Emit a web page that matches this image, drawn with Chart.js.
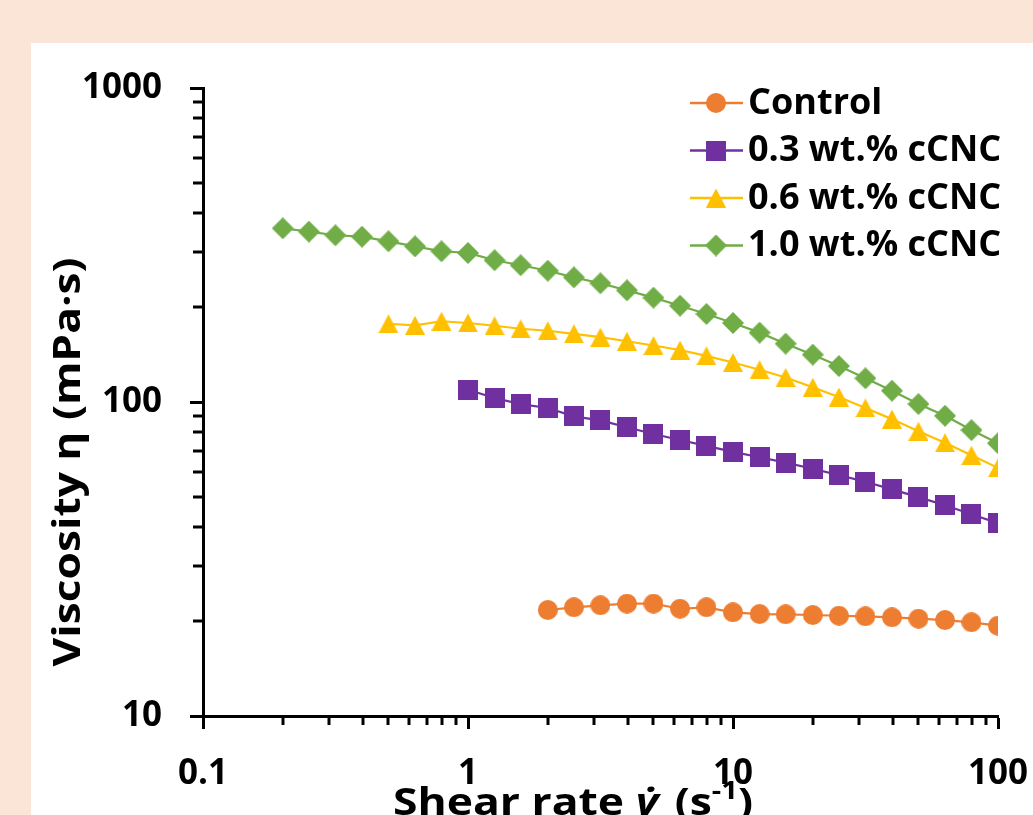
<!DOCTYPE html>
<html><head><meta charset="utf-8">
<script src="https://cdn.jsdelivr.net/npm/chart.js@4/dist/chart.umd.min.js"></script>
<style>
html,body{margin:0;padding:0;width:1033px;height:815px;overflow:hidden;background:#FBE5D6;}
#panel{position:absolute;left:31px;top:43px;width:1002px;height:772px;background:#ffffff;}
#c{position:absolute;left:0;top:0;}
</style></head><body>
<div id="panel"></div>
<canvas id="c" width="1033" height="815"></canvas>
<script>
// ---- data ----
const shearRate = [0.2, 0.251, 0.316, 0.398, 0.501, 0.631, 0.794, 1, 1.26, 1.58, 2, 2.51, 3.16, 3.98, 5.01, 6.31, 7.94, 10, 12.6, 15.8, 20, 25.1, 31.6, 39.8, 50.1, 63.1, 79.4, 100];
const seriesNames = ['Control', '0.3 wt.% cCNC', '0.6 wt.% cCNC', '1.0 wt.% cCNC'];
const controlVisc = [null, null, null, null, null, null, null, null, null, null,
  21.76, 22.19, 22.52, 22.79, 22.79, 21.96, 22.19, 21.39, 21.12, 21.07, 20.97, 20.86, 20.77, 20.62, 20.41, 20.21, 19.88, 19.39];
const cnc03Visc = [null, null, null, null, null, null, null,
  109.4, 103.0, 98.5, 95.7, 90.0, 87.4, 83.1, 79.1, 75.7, 72.5, 69.4, 66.7, 64.1, 61.3, 58.5, 55.7, 52.7, 49.8, 46.9, 43.9, 41.1];
const cnc06Visc = [null, null, null, null,
  177.5, 175.5, 180.8, 178.5, 174.9, 171.1, 168.6, 164.9, 160.9, 156.1, 151.3, 146.4, 140.3, 133.6, 126.7, 119.7, 111.4, 103.7, 95.7, 88.2, 80.7, 74.2, 67.7, 61.7];
const cnc10Visc = [357.5, 348.7, 339.6, 336.1, 324.9, 313.1, 302.0, 298.3, 282.8, 272.6, 261.9, 249.5, 238.8, 226.8, 214.9, 202.6, 190.7, 178.5, 166.3, 153.4, 141.5, 130.2, 119.0, 108.6, 98.5, 90.4, 81.4, 73.9];
const xTickValues = [0.1,0.2,0.3,0.4,0.5,0.6,0.7,0.8,0.9,1,2,3,4,5,6,7,8,9,10,20,30,40,50,60,70,80,90,100];
const yTickValues = [10,20,30,40,50,60,70,80,90,100,200,300,400,500,600,700,800,900,1000];
const xTickLabels = {0.1:'0.1', 1:'1', 10:'10', 100:'100'};
const yTickLabels = {10:'10', 100:'100', 1000:'1000'};

const colors = ['#ED7D31', '#7030A0', '#FFC000', '#70AD47'];
const FONT = "'Open Sans', 'DejaVu Sans', sans-serif";

function makeMarker(shape, color, w, h) {
  const c = document.createElement('canvas');
  c.width = w; c.height = h;
  const g = c.getContext('2d');
  g.fillStyle = color;
  g.beginPath();
  if (shape === 'circle') { g.arc(w/2, h/2, w/2, 0, Math.PI*2); }
  else if (shape === 'square') { g.rect(0, 0, w, h); }
  else if (shape === 'triangle') { g.moveTo(w/2, 0); g.lineTo(w, h); g.lineTo(0, h); g.closePath(); }
  else if (shape === 'diamond') { g.moveTo(w/2, 0); g.lineTo(w, h/2); g.lineTo(w/2, h); g.lineTo(0, h/2); g.closePath(); }
  g.fill();
  return c;
}
const markers = [
  makeMarker('circle', colors[0], 20, 20),
  makeMarker('square', colors[1], 20, 20),
  makeMarker('triangle', colors[2], 20, 19),
  makeMarker('diamond', colors[3], 22, 22)
];

function toPoints(vals) {
  const out = [];
  vals.forEach((v, i) => { if (v !== null) out.push({x: shearRate[i], y: v}); });
  return out;
}
const allSeries = [controlVisc, cnc03Visc, cnc06Visc, cnc10Visc];
const datasets = allSeries.map((vals, i) => ({
  label: seriesNames[i],
  data: toPoints(vals),
  borderColor: colors[i],
  backgroundColor: colors[i],
  borderWidth: 2.2,
  pointStyle: markers[i],
  pointRadius: 10,
  pointBorderWidth: 0,
  tension: 0,
  order: 3 - i
}));

const isMajor = v => Math.abs(Math.log10(v) - Math.round(Math.log10(v))) < 1e-9;

const minorTicks = {
  id: 'minorTicks',
  afterDraw(chart) {
    const ctx = chart.ctx, xs = chart.scales.x, ys = chart.scales.y;
    ctx.save();
    ctx.strokeStyle = '#000'; ctx.lineWidth = 3;
    xs.ticks.forEach(t => {
      if (isMajor(t.value)) return;
      const px = Math.round(xs.getPixelForValue(t.value));
      ctx.beginPath(); ctx.moveTo(px, ys.bottom); ctx.lineTo(px, ys.bottom + 9); ctx.stroke();
    });
    ys.ticks.forEach(t => {
      if (isMajor(t.value)) return;
      const py = Math.round(ys.getPixelForValue(t.value));
      ctx.beginPath(); ctx.moveTo(xs.left, py); ctx.lineTo(xs.left - 10, py); ctx.stroke();
    });
    ctx.restore();
  }
};

function fitText(ctx, text, x, y, targetWidth, align) {
  const w = ctx.measureText(text).width;
  const k = targetWidth / w;
  ctx.save();
  ctx.translate(x, y);
  ctx.scale(k, 1);
  ctx.textAlign = align;
  ctx.fillText(text, 0, 0);
  ctx.restore();
}

const titlesAndLegend = {
  id: 'titlesAndLegend',
  afterDraw(chart) {
    const ctx = chart.ctx;
    ctx.save();
    ctx.fillStyle = '#000';
    // y axis title
    ctx.save();
    ctx.translate(80, 462);
    ctx.rotate(-Math.PI / 2);
    ctx.font = "bold 38px " + FONT;
    ctx.textBaseline = 'alphabetic';
    fitText(ctx, 'Viscosity \u03B7 (mPa\u00B7s)', 0, 0, 409, 'center');
    ctx.restore();
    // x axis title (partly cut at the bottom), built then stretched to the reference width
    ctx.save();
    const base = 815;
    ctx.textBaseline = 'alphabetic'; ctx.textAlign = 'left';
    const parts = [
      { t: 'Shear rate ', f: "bold 38px " + FONT, dy: 0 },
      { t: '\u03B3\u0307', f: "italic bold 38px " + FONT, dy: 0, extra: 4 },
      { t: ' (s', f: "bold 38px " + FONT, dy: 0 },
      { t: '-1', f: "bold 25px " + FONT, dy: -16 },
      { t: ')', f: "bold 38px " + FONT, dy: 0 }
    ];
    let total = 0;
    parts.forEach(p => { ctx.font = p.f; p.w = ctx.measureText(p.t).width + (p.extra || 0); total += p.w; });
    const k = 360 / total;
    ctx.translate(393, base);
    ctx.scale(k, 1);
    let x = 0;
    parts.forEach(p => { ctx.font = p.f; ctx.fillText(p.t, x, p.dy); x += p.w; });
    ctx.restore();
    // legend
    const rowY = [103, 150.5, 198, 245.5];
    ctx.font = "bold 35px " + FONT;
    ctx.textBaseline = 'middle';
    ctx.textAlign = 'left';
    seriesNames.forEach((name, i) => {
      const y = rowY[i];
      ctx.strokeStyle = colors[i]; ctx.lineWidth = 2.5;
      ctx.beginPath(); ctx.moveTo(690, y); ctx.lineTo(743, y); ctx.stroke();
      const m = markers[i];
      ctx.drawImage(m, 716 - m.width / 2, y - m.height / 2);
      ctx.fillStyle = '#000';
      fitText(ctx, name, 748, y + 1, ctx.measureText(name).width * 1.03, 'left');
    });
    ctx.restore();
  }
};

new Chart(document.getElementById('c'), {
  type: 'line',
  data: { datasets },
  options: {
    responsive: false,
    animation: false,
    devicePixelRatio: 1,
    layout: { padding: { left: 0, top: 88, right: 35, bottom: 0 } },
    plugins: { legend: { display: false }, tooltip: { enabled: false } },
    scales: {
      x: {
        type: 'logarithmic', position: 'bottom', min: 0.1, max: 100,
        afterBuildTicks: s => { s.ticks = xTickValues.map(v => ({ value: v, major: isMajor(v) })); },
        afterFit: s => { s.height = 99; s.paddingLeft = 0; s.paddingRight = 0; },
        ticks: {
          autoSkip: false, maxRotation: 0, minRotation: 0, padding: 24, color: '#000',
          font: { family: FONT, weight: 'bold', size: 35 },
          callback: v => xTickLabels[v] || ''
        },
        grid: { display: true, drawOnChartArea: false, drawTicks: true, tickLength: 13, tickWidth: 3,
          tickColor: c => (c.tick && isMajor(c.tick.value)) ? '#000' : 'rgba(0,0,0,0)' },
        border: { display: true, color: '#000', width: 3 }
      },
      y: {
        type: 'logarithmic', position: 'left', min: 10, max: 1000,
        afterBuildTicks: s => { s.ticks = yTickValues.map(v => ({ value: v, major: isMajor(v) })); },
        afterFit: s => { s.width = 203; s.paddingTop = 0; s.paddingBottom = 0; },
        ticks: {
          autoSkip: false, padding: 28, color: '#000',
          font: { family: FONT, weight: 'bold', size: 35 },
          callback: v => yTickLabels[v] || ''
        },
        grid: { display: true, drawOnChartArea: false, drawTicks: true, tickLength: 13, tickWidth: 3,
          tickColor: c => (c.tick && isMajor(c.tick.value)) ? '#000' : 'rgba(0,0,0,0)' },
        border: { display: true, color: '#000', width: 3 }
      }
    }
  },
  plugins: [minorTicks, titlesAndLegend]
});
</script>
</body></html>
